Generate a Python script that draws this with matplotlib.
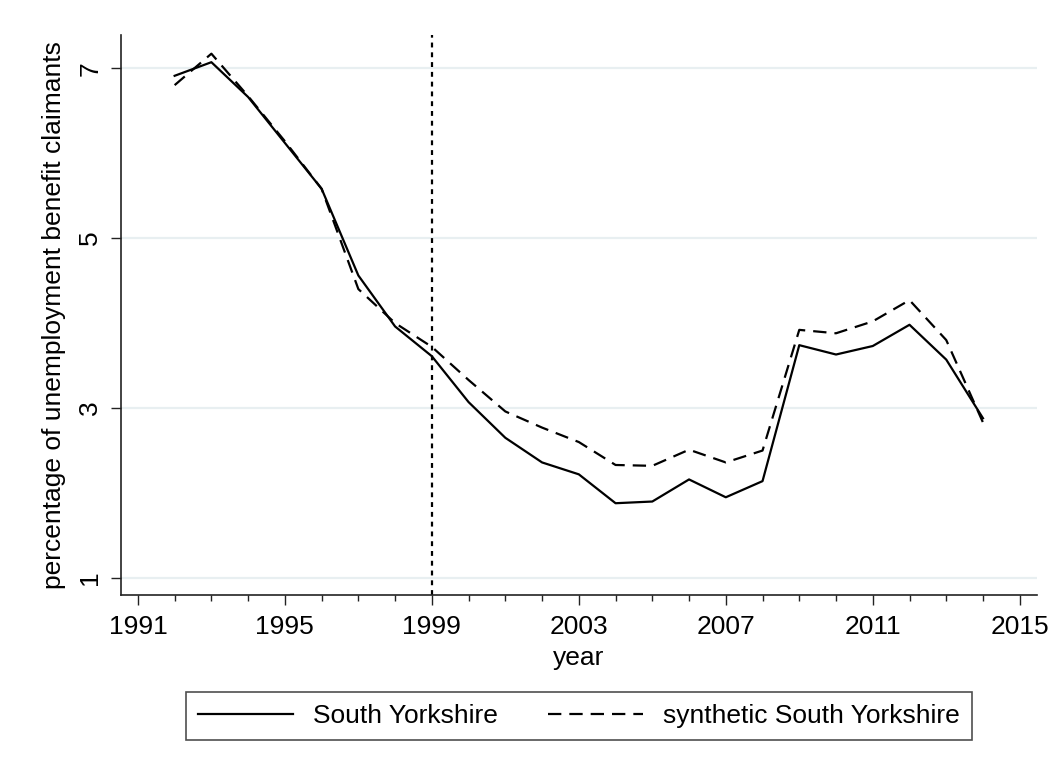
import matplotlib
matplotlib.use("Agg")
import matplotlib.pyplot as plt
from matplotlib.ticker import MultipleLocator

years = list(range(1992, 2015))
south_yorkshire = [6.91, 7.07, 6.66, 6.12, 5.58, 4.56, 3.96, 3.61, 3.07, 2.65, 2.36, 2.22,
                   1.88, 1.90, 2.16, 1.95, 2.14, 3.74, 3.63, 3.73, 3.98, 3.57, 2.88]
synthetic = [6.80, 7.17, 6.67, 6.14, 5.58, 4.40, 4.00, 3.72, 3.33, 2.96, 2.77, 2.60,
             2.33, 2.32, 2.51, 2.36, 2.50, 3.92, 3.88, 4.02, 4.27, 3.80, 2.83]
x_ticks = [1991, 1995, 1999, 2003, 2007, 2011, 2015]
y_ticks = [1, 3, 5, 7]
treatment_year = 1999

plt.rcParams['font.family'] = ['Liberation Sans', 'DejaVu Sans']
FS = 19

fig = plt.figure(figsize=(10.58, 7.71), dpi=100)
ax = fig.add_axes([121/1058, 1 - 595/771, (1037-121)/1058, (595-35)/771])

for y in y_ticks:
    ax.axhline(y, color='#e8eff1', lw=1.6, zorder=0)

ax.plot(years, south_yorkshire, color='black', lw=1.6, label='South Yorkshire')
ax.plot(years, synthetic, color='black', lw=1.6, dashes=(6, 3.6), label='synthetic South Yorkshire')
ax.axvline(treatment_year, color='black', lw=1.6, dashes=(2.2, 2.2))

ax.set_xlim(1990.54, 2015.47)
ax.set_ylim(0.8, 7.39)
ax.set_xticks(x_ticks)
ax.xaxis.set_minor_locator(MultipleLocator(1))
ax.set_yticks(y_ticks)
ax.tick_params(axis='both', which='major', labelsize=FS, length=7.5, width=1, color='#222222')
ax.tick_params(axis='x', which='minor', length=4, width=1, color='#222222')
for lab in ax.get_yticklabels():
    lab.set_rotation(90)
    lab.set_va('center')
ax.tick_params(axis='y', pad=6)
ax.tick_params(axis='x', pad=7)

for s in ['top', 'right']:
    ax.spines[s].set_visible(False)
for s in ['left', 'bottom']:
    ax.spines[s].set_color('#222222')
    ax.spines[s].set_linewidth(1.2)

ax.set_xlabel('year', fontsize=FS, labelpad=5)
ax.set_ylabel('percentage of unemployment benefit claimants', fontsize=FS, labelpad=9)

leg = fig.legend(loc='center', bbox_to_anchor=(579/1058, 1 - 716/771), ncol=2, fontsize=FS,
                 frameon=True, fancybox=False, edgecolor='#222222', handlelength=3.6,
                 columnspacing=1.9, borderpad=0.45, handletextpad=0.75)
leg.get_frame().set_linewidth(1.2)

fig.savefig('out.png', dpi=100, facecolor='white')
